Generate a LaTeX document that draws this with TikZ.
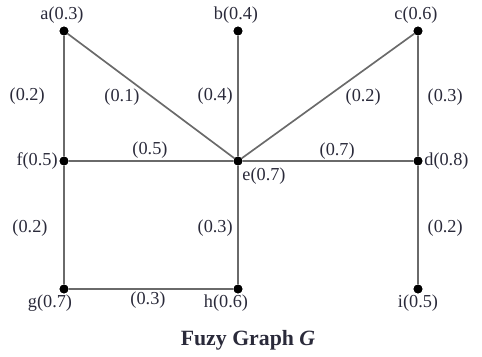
\documentclass[tikz,border=0pt]{standalone}
\usepackage{fontspec}
\setmainfont{Liberation Serif}
\usetikzlibrary{positioning}
\definecolor{edgegray}{HTML}{6A6A6A}
\definecolor{txtdark}{HTML}{2A2A3A}

\begin{document}
\begin{tikzpicture}[
  vtx/.style={circle, fill=black, inner sep=0pt, minimum size=2.2mm},
  lbl/.style={font=\fontsize{13}{15}\selectfont, text=txtdark, inner sep=1pt},
  wt/.style={font=\fontsize{13}{15}\selectfont, text=txtdark, inner sep=0pt},
  edg/.style={draw=edgegray, line width=1.2pt},
]
\useasboundingbox (0,0) rectangle (12.05,8.9);

% Vertices
\node[vtx] (a) at (1.6,8.125) {};
\node[vtx] (b) at (5.95,8.125) {};
\node[vtx] (c) at (10.45,8.125) {};
\node[vtx] (f) at (1.6,4.875) {};
\node[vtx] (e) at (5.95,4.875) {};
\node[vtx] (d) at (10.45,4.875) {};
\node[vtx] (g) at (1.6,1.675) {};
\node[vtx] (h) at (5.95,1.675) {};
\node[vtx] (i) at (10.45,1.675) {};

% Vertex labels
\node[lbl] (la) at (1.55,8.525) {a(0.3)};
\node[lbl] (lb) at (5.9,8.525) {b(0.4)};
\node[lbl] (lc) at (10.4,8.525) {c(0.6)};
\node[lbl, left=0pt of f] (lf) {f(0.5)};
\node[lbl] (le) at (6.6,4.5) {e(0.7)};
\node[lbl, right=0pt of d] (ld) {d(0.8)};
\node[lbl] (lg) at (1.25,1.33) {g(0.7)};
\node[lbl] (lh) at (5.65,1.33) {h(0.6)};
\node[lbl] (li) at (10.45,1.33) {i(0.5)};

% Edges
\draw[edg] (a) -- (f);
\draw[edg] (a) -- (e);
\draw[edg] (b) -- (e);
\draw[edg] (c) -- (e);
\draw[edg] (c) -- (d);
\draw[edg] (f) -- (e);
\draw[edg] (e) -- (d);
\draw[edg] (f) -- (g);
\draw[edg] (e) -- (h);
\draw[edg] (d) -- (i);
\draw[edg] (g) -- (h);

% Redraw dots on top
\foreach \v in {a,b,c,d,e,f,g,h,i}
  \fill (\v) circle (1.1mm);

% Edge weights
\node[wt] (waf) at (0.68,6.5) {(0.2)};
\node[wt] (wae) at (3.05,6.48) {(0.1)};
\node[wt] (wbe) at (5.38,6.5) {(0.4)};
\node[wt] (wce) at (9.08,6.48) {(0.2)};
\node[wt] (wcd) at (11.13,6.48) {(0.3)};
\node[wt] (wfe) at (3.75,5.15) {(0.5)};
\node[wt] (wed) at (8.43,5.13) {(0.7)};
\node[wt] (wfg) at (0.75,3.2) {(0.2)};
\node[wt] (weh) at (5.38,3.2) {(0.3)};
\node[wt] (wdi) at (11.13,3.2) {(0.2)};
\node[wt] (wgh) at (3.7,1.4) {(0.3)};

% Caption
\node[font=\fontsize{15.5}{18}\selectfont\bfseries, text=txtdark] (cap) at (6.2,0.4)
  {Fuzy Graph \textit{G}};

\end{tikzpicture}
\end{document}
